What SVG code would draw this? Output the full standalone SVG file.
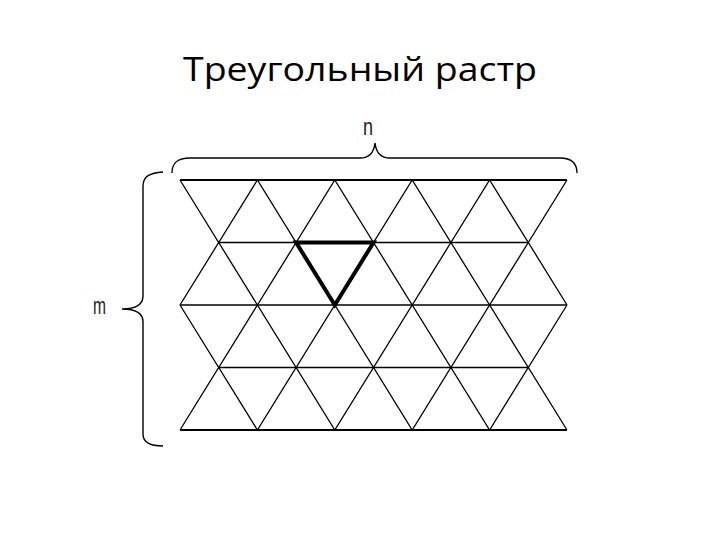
<svg xmlns="http://www.w3.org/2000/svg" width="720" height="540" viewBox="0 0 720 540">
<style>
.title{font-family:"Open Sans","Noto Sans",sans-serif;font-size:32px;fill:#000}
.lbl{font-family:"Liberation Sans",Arial,sans-serif;font-size:23px;fill:#222}
.grid{fill:none;stroke:#000;stroke-width:1.3;stroke-linejoin:miter}
.h{stroke:#000;stroke-width:1.5}
.hb{stroke:#000;stroke-width:2}
.brace{fill:none;stroke:#000;stroke-width:1.4}
.bold{fill:none;stroke:#000;stroke-width:4;stroke-linejoin:miter}
</style>
<rect width="720" height="540" fill="#fff"/>
<text class="title" x="360" y="81" text-anchor="middle" textLength="354" lengthAdjust="spacingAndGlyphs">Треугольный растр</text>
<g id="raster">
<g id="horizontals">
<line class="hb" x1="180" y1="180" x2="567" y2="180"/>
<line class="h" x1="218.7" y1="242.5" x2="528.3" y2="242.5"/>
<line class="h" x1="180" y1="305" x2="567" y2="305"/>
<line class="h" x1="218.7" y1="367.5" x2="528.3" y2="367.5"/>
<line class="hb" x1="180" y1="430" x2="567" y2="430"/>
</g>
<g id="diagonals">
<polyline class="grid" points="180,180 218.7,242.5 257.4,180 296.1,242.5 334.8,180 373.5,242.5 412.2,180 450.9,242.5 489.6,180 528.3,242.5 567,180"/>
<polyline class="grid" points="180,305 218.7,242.5 257.4,305 296.1,242.5 334.8,305 373.5,242.5 412.2,305 450.9,242.5 489.6,305 528.3,242.5 567,305"/>
<polyline class="grid" points="180,305 218.7,367.5 257.4,305 296.1,367.5 334.8,305 373.5,367.5 412.2,305 450.9,367.5 489.6,305 528.3,367.5 567,305"/>
<polyline class="grid" points="180,430 218.7,367.5 257.4,430 296.1,367.5 334.8,430 373.5,367.5 412.2,430 450.9,367.5 489.6,430 528.3,367.5 567,430"/>
</g>
</g>
<g id="highlight">
<polygon class="bold" points="296.1,242.5 373.5,242.5 334.8,305"/>
</g>
<g id="brace-n">
<path class="brace" d="M172,173 C172,163 177,158 190,158 L360,158 C370,158 374,152 375,143 C376,152 380,158 390,158 L560,158 C571,158 577,163 577,173"/>
<text class="lbl" x="363" y="135" textLength="10" lengthAdjust="spacingAndGlyphs">n</text>
</g>
<g id="brace-m">
<path class="brace" d="M163,172 C150,173 143,176 143,186 L143,296 C143,304 137,309 122,309 C137,309 143,314 143,322 L143,434 C143,442 150,446 163,446"/>
<text class="lbl" x="93" y="314" textLength="13" lengthAdjust="spacingAndGlyphs">m</text>
</g>
</svg>
